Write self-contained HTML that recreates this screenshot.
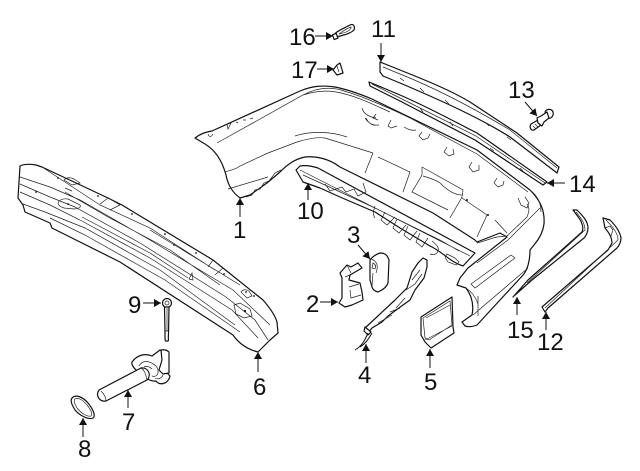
<!DOCTYPE html>
<html><head><meta charset="utf-8"><style>
html,body{margin:0;padding:0;background:#fff}
svg{display:block}
text{font-family:"Liberation Sans",sans-serif;font-size:24px;fill:#111}
.o{fill:#fff;stroke:#111;stroke-width:1.2;stroke-linejoin:round}
.l{fill:none;stroke:#222;stroke-width:.7}
.a{fill:none;stroke:#111;stroke-width:1}
</style></head><body>
<svg width="640" height="471" viewBox="0 0 640 471" xmlns="http://www.w3.org/2000/svg">
<defs><marker id="m" markerUnits="userSpaceOnUse" markerWidth="9" markerHeight="8" refX="7" refY="4" orient="auto"><path d="M0 0L7 4L0 8Z" fill="#111"/></marker></defs>

<!-- bumper -->
<path class="o" d="M195 138C200 134 205 132 212 131L300 91C312 86 322 85 335 87C345 89 360 94 372 99L477 150L530 190C540 200 545 210 544 224C543 232 540 238 534 245L530 250C530 260 528 268 524 274L477 325C472 327 468 327 465 326L462 322L472 315C474 305 472 296 466 288L457 285L460 278L468 268L507 237L500 233L477 242L475 240L433 213L340 167C328 158 315 156 305 157C295 159 288 164 280 172L267 183L250 195L240 198C232 192 228 185 226 175C222 160 215 150 205 144Z"/>
<path class="l" d="M217 143L303 95C318 90 332 90 345 94C360 98 372 104 390 112M303 95C318 87 332 86 347 92C365 97 400 113 410 118L477 154L528 192"/>
<path class="l" d="M225 172C230 170 235 170 240 166L268 153L297 142C310 138 318 137 325 138L373 153M295 136C310 131 330 131 347 137M228 189L268 177"/>
<!-- centre recess panels -->
<path class="l" d="M373 153L365 173M378 157L410 172L403 192"/>
<path class="l" d="M422 167L463 190L462 197L450 218M422 167L422 175L412 192L448 210M423 176C430 178 436 180 440 183C447 190 455 195 462 195"/>
<path class="l" d="M462 198L487 215L477 237M495 220L507 233M477 243C485 241 492 238 497 237L507 236L527 217C529 212 530 208 527 204"/>
<path class="l" d="M422 132l-3 4 4 4 5-2 2-4M447 147l-3 5 5 4 5-2-1-5M472 162l-3 5 4 5 6-2 0-5M497 178l-3 5 4 4 5-2 1-4M518 198l3 7 6 3 2-5-4-6M391 120l-3 6 3 2 6-2M404 127c3 2 8 4 12 3M376 114l-3 4 5 2M362 108q2 8 14 10M365 118q5 8 14 7M366 118q4 8 10 7"/>
<circle cx="467" cy="200" r="1" fill="#111"/><circle cx="488" cy="215" r="1" fill="#111"/>
<path class="l" d="M227 124l4-1-3 6zM236 122l2 1M243 120l3 0M250 119l3-1M208 134q2 5 5 0"/>
<path class="l" d="M246 197l6-2 3-5 5-1 4-6 5-2 6-8 6-3"/>
<!-- bumper lower strip -->
<path class="l" d="M477 263L508 240L540 208M473 315L528 268M478 296C478 306 478 312 478 316M466 288C472 292 476 298 478 304"/>
<path class="l" d="M471 284L475 288L515 258L511 255Z"/>
<path class="l" d="M530 190C538 196 541 204 541 212"/>

<!-- 10 -->
<path class="o" d="M296 170L300 166C306 165 312 166 318 168L475 253L463 266C450 262 443 252 430 246L400 228L375 212L340 197L320 188L303 182Z"/>
<path class="l" d="M300 170L470 256M303 175L325 185L375 208L440 240L459 251M325 184l5 7 12-4 4 5 8-3 4 7 8-4-3-9M375 206q-3 8 0 12M385 212l-4 8 6 5 8-8M397 219l-4 9 6 5 7-8M408 226l-4 9 6 5 7-9M420 233l-4 9 6 5 6-9M432 241q8 6 6 10q-2 5-8 3M447 254l8 4 4 4-3 3-8-3-3-5z"/>

<!-- 11 -->
<path class="o" d="M380 62L400 70C425 80 450 90 470 102L517 133L559 167L557 173L510 137C480 118 440 100 400 83L383 76L380 72Z"/>
<path class="l" d="M383 67L400 74C430 86 470 106 510 130L557 168M400 78l4 3M420 88l4 4M445 100l4 4M485 122l4 4M507 137l4 3M530 152l4 3"/>
<!-- 14 -->
<path class="o" d="M369 82L400 95C430 108 455 122 477 133L547 182L543 185L475 140L400 101L370 86Z"/>
<path class="l" d="M372 84L400 98L476 136L545 183M420 108l3 4M450 122l3 4M490 148l4 3M520 168l3 3"/>
<!-- 13 -->
<path class="o" d="M531 124L538 120L541 125L534 130C531 131 529 127 531 124Z"/>
<path class="o" d="M545 112C547 108 552 109 553 112C554 116 551 119 548 118Z"/>
<path class="o" d="M537 118L541 116L547 112L549 118L544 122L542 126L538 123Z"/>
<path class="l" d="M533 126l3 3M535 124l3 3"/>
<!-- 15 -->
<path class="o" d="M573 210L577 210C584 217 588 222 588 228C588 232 586 236 584 238L532 280L515 295L513 297L528 280L582 232C584 228 582 222 579 218Z"/>
<path class="l" d="M576 212C582 219 585 224 585 230L527 283"/>
<!-- 12 -->
<path class="o" d="M603 218L610 220C616 226 620 232 621 238C621 242 619 246 617 248L548 308L545 312L542 307L608 250L612 243C612 238 610 234 605 228Z"/>
<path class="l" d="M606 220C614 228 618 234 618 240L545 308M605 228l5-2 3 4-2 6"/>
<!-- 16 -->
<path class="o" d="M334 35C336 31 345 28 350 25C354 23 355 27 354 30C350 34 343 35 337 37Z"/>
<path class="l" d="M339 34C343 31 348 28 351 27C352 30 345 33 339 34Z"/>
<rect class="o" x="333" y="34" width="4" height="5" transform="rotate(-20 335 36)"/>
<!-- 17 -->
<path class="o" d="M333 70L337 65L340 63L343 73L337 75Z"/>
<path class="l" d="M337 66L339 72"/>

<!-- 2 -->
<path class="o" d="M340 273L347 265L351 267L358 263L362 268L350 275L349 280L360 283L362 292L363 300L352 305L345 307L339 303L342 298L342 278Z"/>
<path class="l" d="M347 265L351 273M349 287L359 284M350 290L351 298L361 295M345 277L350 275"/>
<!-- 3 -->
<path class="o" d="M370 260C373 256 377 254 380 253C384 253 387 254 389 260L388 283C386 288 382 290 378 292C375 291 373 290 372 287L370 280Z"/>
<path class="l" d="M371 259q9 3 5 14M373 263q4 2 2 6l-3-1zM373 273L372 286"/>
<!-- 4 -->
<path class="o" d="M423 258L427 260L427 267L424 278L415 290L410 300L403 305L388 316L382 322L372 328L368 333L365 328L395 300L407 288L412 272L418 263Z"/>
<path class="o" d="M365 327L371 332L368 335L364 331Z"/>
<path class="l" d="M406 290L415 284L422 274M412 280L420 270M405 298L396 308M390 312L400 308M378 323L392 315"/>
<path class="a" d="M368 333C365 340 362 346 355 350M372 333C368 340 365 344 360 347"/>
<!-- 5 -->
<path class="o" d="M421 317L452 297L453 327L454 333L431 348L425 342L421 335Z"/>
<path class="l" d="M423 318L450 301L452 325L429 340L425 338ZM426 318L450 305M425 340L452 326"/>

<!-- 6 bar -->
<path class="o" d="M20 166C24 164 30 164 36 165L42 167L108 198L122 205L213 260L223 268L263 300C270 308 275 315 277 322L278 333L270 340L258 352C250 350 240 345 233 335L120 262L52 228L50 223L25 212L23 205L18 198Z"/>
<path class="l" d="M20 177L50 187L80 200L150 240L233 290L270 325M20 184L50 197L75 207L140 243L226 297L255 320L268 340M20 192L50 205L80 220L150 258L232 310L258 338M23 204L45 212L85 228L160 270L235 325M50 218L85 235L165 280L240 332M82 217L150 253L188 278M150 230L240 285M65 192L108 217L170 250L220 285M42 167L100 205L150 228L215 270M65 188L72 191"/>
<path class="l" d="M100 204L108 198L120 205L110 210M208 267L213 260L223 268L215 275"/>
<path class="l" d="M64 180q4-4 10-1l6 4-8 2zM58 203q2-5 10-4l12 6q2 3-6 4l-10-1q-6-2-6-5zM241 292q3-4 8-1l3 5-5 2zM234 305l6-2 10 6 2 7-8 2-8-4zM189 279l3-6 1 7z"/>
<g fill="#111"><circle cx="58" cy="178" r=".9"/><circle cx="98" cy="196" r=".9"/><circle cx="132" cy="214" r=".9"/><circle cx="165" cy="234" r=".9"/><circle cx="174" cy="245" r=".9"/><circle cx="196" cy="253" r=".9"/><circle cx="224" cy="274" r=".9"/><circle cx="246" cy="292" r=".9"/><circle cx="254" cy="296" r=".9"/><circle cx="36" cy="192" r=".9"/><circle cx="68" cy="204" r=".9"/><circle cx="245" cy="311" r="1.1"/></g>

<!-- 9 bolt -->
<circle class="o" cx="167" cy="303" r="4.500"/><circle class="l" cx="167" cy="303" r="2"/>
<path class="o" d="M164.500 307L169 307L168.500 333C168 342 169 340 168 341L165.500 341C165 340 165 340 165 333Z"/>
<path class="l" d="M165 331L168.500 331M167 308L167 331"/>
<!-- 7 -->
<path class="o" d="M132 362C137 355 145 353 152 356L160 350L163 352L162 361C165 362 168 366 166 372L170 376C168 384 160 386 156 381C150 382 142 376 138 372C134 368 131 365 132 362Z"/>
<path class="o" d="M161 350C165 349 168 351 169 352L169 373L163 374L159 370L162 360Z"/>
<path class="l" d="M139 366C143 359 150 361 156 366C160 371 158 378 152 376M144 367q4-2 8 2M155 378C158 380 162 378 163 375"/>
<path class="o" d="M99 390L141 368C148 367 152 375 147 380L106 401C100 402 95 396 99 390Z"/>
<path class="l" d="M101 391C104 394 106 397 106 401M141 368C145 370 146 376 147 380"/>
<!-- 8 -->
<path class="o" d="M72 398C76 394 83 397 88 403C93 409 96 416 93 418C89 420 80 416 75 410C72 405 70 401 72 398Z"/>
<path class="l" d="M75 399C78 397 83 400 87 405C91 410 93 414 91 416C87 417 81 413 77 408C75 404 73 401 75 399Z"/>

<!-- arrows -->
<line class="a" x1="315" y1="36" x2="333" y2="36" marker-end="url(#m)"/>
<line class="a" x1="317" y1="69" x2="334" y2="69" marker-end="url(#m)"/>
<line class="a" x1="381" y1="43" x2="381" y2="62" marker-end="url(#m)"/>
<line class="a" x1="240" y1="217" x2="240" y2="198" marker-end="url(#m)"/>
<line class="a" x1="308" y1="200" x2="308" y2="183" marker-end="url(#m)"/>
<line class="a" x1="525" y1="102" x2="537" y2="116" marker-end="url(#m)"/>
<line class="a" x1="565" y1="183" x2="547" y2="183" marker-end="url(#m)"/>
<line class="a" x1="517" y1="315" x2="517" y2="297" marker-end="url(#m)"/>
<line class="a" x1="546" y1="330" x2="546" y2="312" marker-end="url(#m)"/>
<line class="a" x1="430" y1="368" x2="430" y2="349" marker-end="url(#m)"/>
<line class="a" x1="366" y1="363" x2="366" y2="344" marker-end="url(#m)"/>
<line class="a" x1="358" y1="245" x2="370" y2="259" marker-end="url(#m)"/>
<line class="a" x1="320" y1="302" x2="338" y2="302" marker-end="url(#m)"/>
<line class="a" x1="143" y1="303" x2="161" y2="303" marker-end="url(#m)"/>
<line class="a" x1="128" y1="408" x2="128" y2="390" marker-end="url(#m)"/>
<line class="a" x1="83" y1="437" x2="83" y2="418" marker-end="url(#m)"/>
<line class="a" x1="258" y1="372" x2="258" y2="352" marker-end="url(#m)"/>

<!-- labels -->
<text x="289" y="45">16</text>
<text x="291" y="78">17</text>
<text x="371" y="37">11</text>
<text x="508" y="98">13</text>
<text x="569" y="192">14</text>
<text x="233" y="238">1</text>
<text x="297" y="219">10</text>
<text x="347" y="243">3</text>
<text x="306" y="312">2</text>
<text x="128" y="313">9</text>
<text x="358" y="383">4</text>
<text x="424" y="390">5</text>
<text x="507" y="338">15</text>
<text x="537" y="350">12</text>
<text x="253" y="395">6</text>
<text x="122" y="430">7</text>
<text x="78" y="457">8</text>
</svg>
</body></html>
